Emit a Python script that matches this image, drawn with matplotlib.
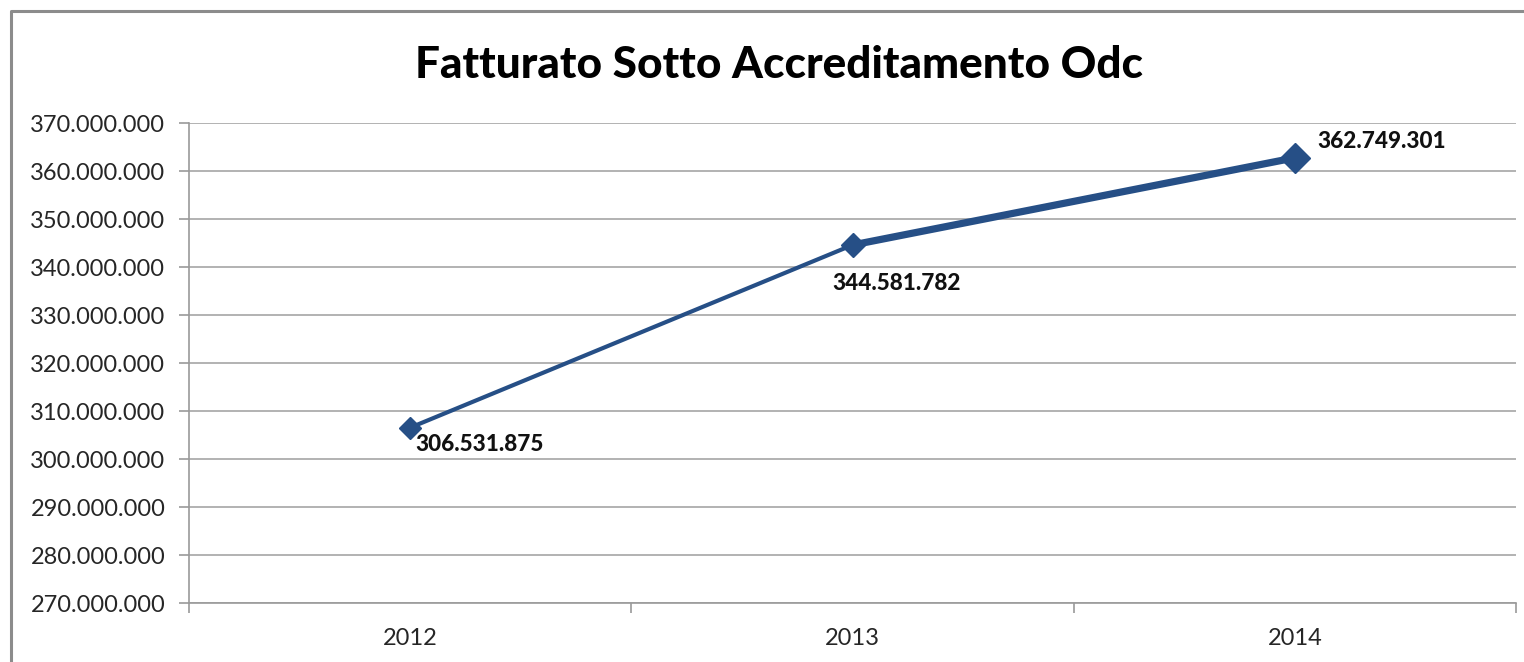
import matplotlib
matplotlib.use("Agg")
import matplotlib.pyplot as plt
from matplotlib.ticker import FuncFormatter, MultipleLocator
from matplotlib.lines import Line2D

years = ["2012", "2013", "2014"]
values = [306531875, 344581782, 362749301]
labels = ["306.531.875", "344.581.782", "362.749.301"]
seg_widths = [3.0, 5.2]
marker_sizes = [11, 12, 15]

color = "#264F86"
plt.rcParams['font.family'] = ['Lato', 'DejaVu Sans']

W, H = 1524, 662
fig = plt.figure(figsize=(W / 100, H / 100), dpi=100)
ax = fig.add_axes([189 / W, 1 - 603 / H, (1516 - 189) / W, (603 - 123) / H])

x = list(range(len(years)))
for i in range(len(x) - 1):
    ax.plot(x[i:i + 2], values[i:i + 2], color=color, lw=seg_widths[i],
            solid_capstyle='round', zorder=3)
for xi, v, ms in zip(x, values, marker_sizes):
    ax.plot([xi], [v], marker='D', ms=ms, color=color, mec=color, zorder=4, ls='none')

offsets = [((5, -17), 'left'), ((44, -38), 'center'), ((23, 16), 'left')]
for xi, v, lab, (off, ha) in zip(x, values, labels, offsets):
    ax.annotate(lab, (xi, v), xytext=(off[0] * 0.72, off[1] * 0.72),
                textcoords='offset points', ha=ha, va='center',
                fontsize=16.2, fontweight='black', color='#111111')

ax.set_xlim(-0.5, 2.5)
ax.set_ylim(270000000, 370000000)
ax.yaxis.set_major_locator(MultipleLocator(10000000))
ax.yaxis.set_major_formatter(FuncFormatter(lambda v, p: f"{int(round(v)):,}".replace(",", ".")))
ax.set_xticks(x)
ax.set_xticklabels(years)
ax.set_xticks([-0.5, 0.5, 1.5, 2.5], minor=True)
ax.tick_params(axis='x', which='major', length=0, pad=18, labelsize=17, labelcolor='#262626')
ax.tick_params(axis='x', which='minor', length=7, color='#9a9a9a', width=1.2, direction='out')
ax.tick_params(axis='y', which='major', length=7, color='#9a9a9a', width=1.2, pad=10,
               labelsize=17, labelcolor='#262626')

ax.grid(axis='y', color='#a6a6a6', lw=1.2)
ax.set_axisbelow(True)
for s in ['top', 'right']:
    ax.spines[s].set_visible(False)
ax.spines['left'].set_color('#9a9a9a')
ax.spines['bottom'].set_color('#9a9a9a')
ax.spines['left'].set_linewidth(1.2)
ax.spines['bottom'].set_linewidth(1.2)

fig.text(779 / W, 1 - 65 / H, "Fatturato Sotto Accreditamento Odc", ha='center', va='center',
         fontsize=31.8, fontweight='black', color='black')

# chart-area border
fig.add_artist(Line2D([11 / W, 11 / W, 1.0], [0, 1 - 11 / H, 1 - 11 / H],
                      transform=fig.transFigure, color='#8c8c8c', lw=2.2))

fig.savefig("out.png", dpi=100)
